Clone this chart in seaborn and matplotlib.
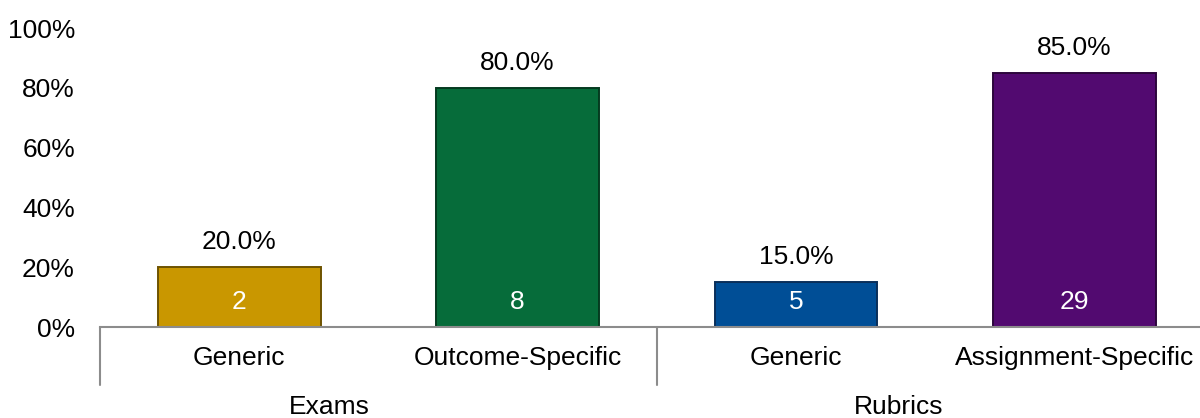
import matplotlib
matplotlib.use("Agg")
import matplotlib.pyplot as plt
import matplotlib.transforms as mtransforms
import seaborn as sns
import pandas as pd

# Survey results: share of each assessment type and the raw counts
groups = ["Exams", "Exams", "Rubrics", "Rubrics"]
types = ["Generic", "Outcome-Specific", "Generic", "Assignment-Specific"]
percents = [20.0, 80.0, 15.0, 85.0]
counts = [2, 8, 5, 29]
group_names = ["Exams", "Rubrics"]

fill_colors = ["#C99700", "#066C3A", "#004E96", "#520A70"]
edge_colors = ["#6E5300", "#043A1F", "#0A2F5A", "#2C063C"]

keys = [f"{g}|{t}" for g, t in zip(groups, types)]
df = pd.DataFrame({"key": keys, "group": groups, "type": types,
                   "pct": percents, "n": counts})

sns.set_theme(style="white")
plt.rcParams["font.family"] = ["Liberation Sans", "DejaVu Sans"]
FS = 19

fig = plt.figure(figsize=(12, 4.18), dpi=100)
ax = fig.add_axes([0.0833, 0.2177, 0.928, 0.7153])

sns.barplot(data=df, x="key", y="pct", hue="key", order=keys, hue_order=keys,
            palette=fill_colors, saturation=1, width=0.585, legend=False,
            ax=ax, linewidth=1.4)
for patch, ec in zip(ax.patches, edge_colors):
    patch.set_edgecolor(ec)

ax.set_ylim(0, 100)
ax.set_xlim(-0.5, len(keys) - 0.5)
ax.set_yticks(range(0, 101, 20))
ax.set_yticklabels([f"{v}%" for v in range(0, 101, 20)])
ax.set_xticks(range(len(keys)))
ax.set_xticklabels(types)
ax.set_xlabel("")
ax.set_ylabel("")
ax.tick_params(axis="y", length=0, pad=18, labelsize=FS, labelcolor="black")
ax.tick_params(axis="x", length=0, pad=14, labelsize=FS, labelcolor="black")

for side in ["left", "right", "top"]:
    ax.spines[side].set_visible(False)
ax.spines["bottom"].set_color("#8C8C8C")
ax.spines["bottom"].set_linewidth(1.5)

# Value labels above the bars, counts inside
for i, (p, n) in enumerate(zip(percents, counts)):
    ax.text(i, p + 8.4, f"{p:.1f}%", ha="center", va="center",
            fontsize=FS, color="black")
    ax.text(i, 8.4, str(n), ha="center", va="center",
            fontsize=FS, color="white")

# Grouped category axis: separators and group names
trans = mtransforms.blended_transform_factory(ax.transData, ax.transAxes)
for xs in [-0.5, 1.5]:
    ax.plot([xs, xs], [0, -0.194], transform=trans, color="#8C8C8C",
            linewidth=1.5, clip_on=False)
group_x = [0.325, 2.37]
for gx, name in zip(group_x, group_names):
    ax.text(gx, -0.268, name, transform=trans, ha="center", va="center",
            fontsize=FS, color="black")

fig.savefig("out.png", dpi=100)
